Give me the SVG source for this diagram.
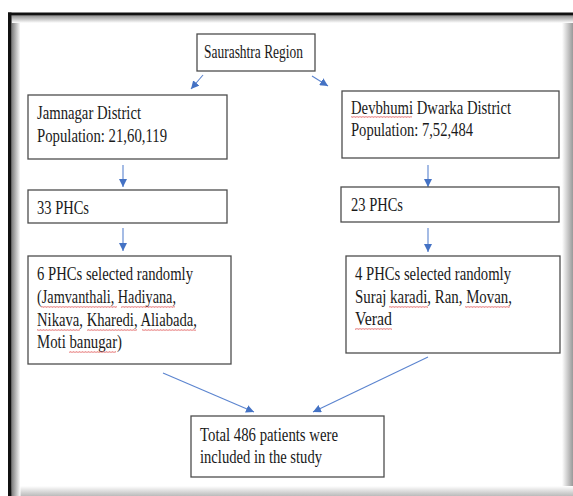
<svg xmlns="http://www.w3.org/2000/svg" width="573" height="496" viewBox="0 0 573 496">
<defs>
<style>
.box{fill:#fff;stroke:#4d4d4d;stroke-width:1.3}
.t{font-family:"Liberation Serif","Times New Roman",serif;font-size:19px;fill:#1a1a1a}
.c{stroke:#5b84cf;stroke-width:1.1;fill:none;marker-end:url(#ah)}
.sq{fill:url(#squig)}
</style>
<marker id="ah" markerUnits="userSpaceOnUse" markerWidth="9" markerHeight="8" refX="8" refY="4" orient="auto">
<path d="M0,0 L8,4 L0,8 z" fill="#4472C4"/>
</marker>
<pattern id="squig" patternUnits="userSpaceOnUse" width="3" height="2">
<path d="M0,1.7 L0.75,0.3 L1.5,1.7 L2.25,0.3 L3,1.7" fill="none" stroke="#e25555" stroke-width="0.55"/>
</pattern>
<linearGradient id="gl" x1="0" y1="0" x2="1" y2="0">
<stop offset="0" stop-color="#7a7a7a"/><stop offset="1" stop-color="#fff"/>
</linearGradient>
<linearGradient id="gt" x1="0" y1="0" x2="0" y2="1">
<stop offset="0" stop-color="#8a8a8a"/><stop offset="1" stop-color="#fff"/>
</linearGradient>
<linearGradient id="gr" x1="0" y1="0" x2="1" y2="0">
<stop offset="0" stop-color="#fff"/><stop offset="1" stop-color="#999"/>
</linearGradient>
<linearGradient id="gb" x1="0" y1="0" x2="0" y2="1">
<stop offset="0" stop-color="#fff"/><stop offset="1" stop-color="#bbb"/>
</linearGradient>
</defs>
<rect width="573" height="496" fill="#fff"/>
<g id="frame">
<rect x="562" y="15" width="11" height="481" fill="url(#gr)"/>
<rect x="11" y="486" width="562" height="10" fill="url(#gb)"/>
<rect x="11.5" y="15" width="9" height="481" fill="url(#gl)"/>
<rect x="11.5" y="15" width="561.5" height="8" fill="url(#gt)"/>
<rect x="8" y="12.5" width="565" height="2.8" fill="#111"/>
<rect x="8" y="12.5" width="3.5" height="483.5" fill="#111"/>
</g>
<g id="connectors">
<line class="c" x1="203" y1="75" x2="191" y2="89"/>
<line class="c" x1="312" y1="76" x2="328" y2="86"/>
<line class="c" x1="123" y1="165" x2="123" y2="187"/>
<line class="c" x1="123" y1="228" x2="123" y2="251"/>
<line class="c" x1="428" y1="165" x2="428" y2="187"/>
<line class="c" x1="428" y1="228" x2="428" y2="252"/>
<line class="c" x1="163" y1="373" x2="254" y2="412"/>
<line class="c" x1="428" y1="357" x2="313" y2="412"/>
</g>
<g id="saurashtra">
<rect class="box" x="197" y="34" width="118" height="37"/>
<text class="t" x="204" y="58" textLength="99" lengthAdjust="spacingAndGlyphs">Saurashtra Region</text>
</g>
<g id="jamnagar">
<rect class="box" x="28" y="95" width="199" height="64"/>
<text class="t" x="37" y="119" textLength="104" lengthAdjust="spacingAndGlyphs">Jamnagar District</text>
<text class="t" x="37" y="142" textLength="130" lengthAdjust="spacingAndGlyphs">Population: 21,60,119</text>
</g>
<g id="devbhumi">
<rect class="box" x="342" y="91" width="217" height="67"/>
<text class="t" x="351" y="114" textLength="160" lengthAdjust="spacingAndGlyphs">Devbhumi Dwarka District</text>
<text class="t" x="351" y="136" textLength="122" lengthAdjust="spacingAndGlyphs">Population: 7,52,484</text>
<rect class="sq" x="351" y="116" width="61" height="2"/>
</g>
<g id="phc33">
<rect class="box" x="28" y="190" width="199" height="33"/>
<text class="t" x="37" y="214" textLength="52" lengthAdjust="spacingAndGlyphs">33 PHCs</text>
</g>
<g id="phc23">
<rect class="box" x="341" y="187" width="218" height="35"/>
<text class="t" x="351" y="211" textLength="52" lengthAdjust="spacingAndGlyphs">23 PHCs</text>
</g>
<g id="phc6">
<rect class="box" x="28" y="256" width="203" height="108"/>
<text class="t" x="37" y="280" textLength="156" lengthAdjust="spacingAndGlyphs">6 PHCs selected randomly</text>
<text class="t" x="37" y="303" textLength="139" lengthAdjust="spacingAndGlyphs">(Jamvanthali, Hadiyana,</text>
<text class="t" x="37" y="326" textLength="160" lengthAdjust="spacingAndGlyphs">Nikava, Kharedi, Aliabada,</text>
<text class="t" x="37" y="348" textLength="85" lengthAdjust="spacingAndGlyphs">Moti banugar)</text>
<rect class="sq" x="41" y="306" width="76" height="2"/>
<rect class="sq" x="121" y="306" width="54" height="2"/>
<rect class="sq" x="37" y="329" width="43" height="2"/>
<rect class="sq" x="87" y="329" width="50" height="2"/>
<rect class="sq" x="142" y="329" width="54" height="2"/>
<rect class="sq" x="69" y="351" width="47" height="2"/>
</g>
<g id="phc4">
<rect class="box" x="346" y="256" width="214" height="97"/>
<text class="t" x="355" y="280" textLength="156" lengthAdjust="spacingAndGlyphs">4 PHCs selected randomly</text>
<text class="t" x="355" y="303" textLength="157" lengthAdjust="spacingAndGlyphs">Suraj karadi, Ran, Movan,</text>
<text class="t" x="355" y="325" textLength="37" lengthAdjust="spacingAndGlyphs">Verad</text>
<rect class="sq" x="389" y="306" width="39" height="2"/>
<rect class="sq" x="465" y="306" width="45" height="2"/>
<rect class="sq" x="355" y="328" width="37" height="2"/>
</g>
<g id="total">
<rect class="box" x="191" y="416" width="193" height="61"/>
<text class="t" x="200" y="441" textLength="138" lengthAdjust="spacingAndGlyphs">Total 486 patients were</text>
<text class="t" x="200" y="463" textLength="122" lengthAdjust="spacingAndGlyphs">included in the study</text>
</g>
</svg>
